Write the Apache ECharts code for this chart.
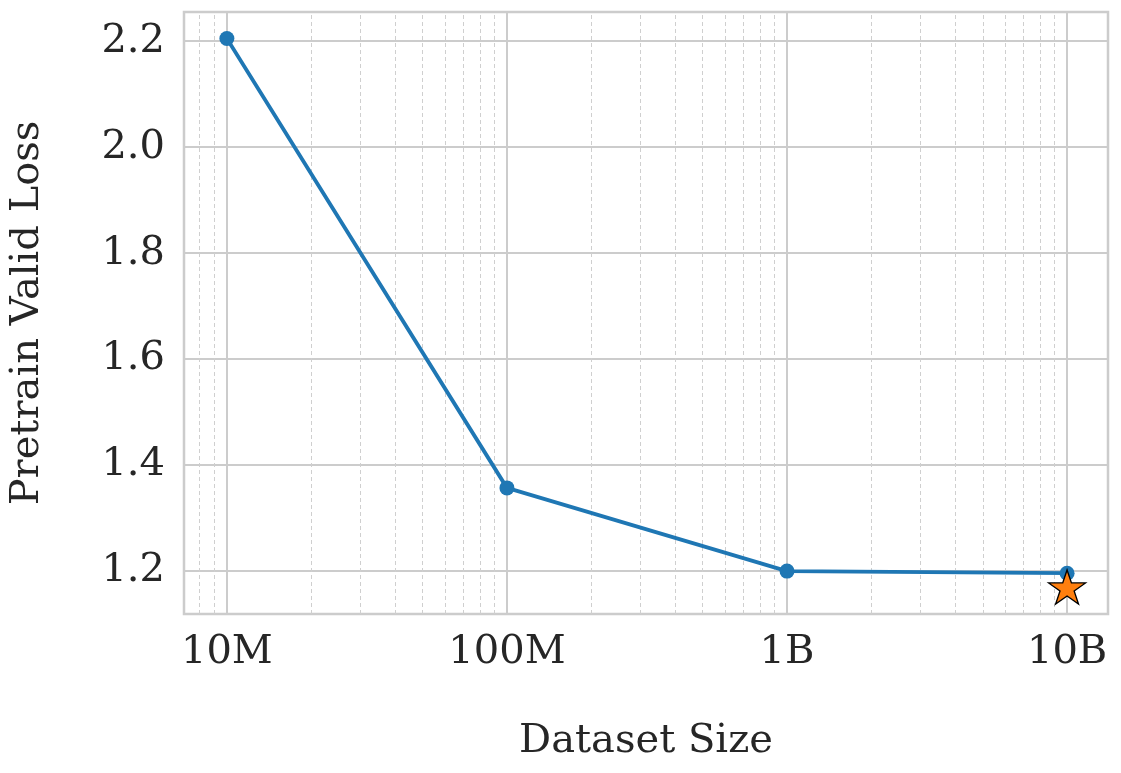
<!DOCTYPE html>
<html>
<head>
    <meta charset="utf-8">
    <title>Pretrain Valid Loss vs Dataset Size</title>
    <script type="text/javascript" src="https://cdn.jsdelivr.net/npm/echarts@6/dist/echarts.min.js"></script>
</head>
<body style="margin:0;">
<div id="chartmain" style="width:1121px; height:773px;"></div>
<script type="text/javascript">
// data
var datasetSizes = [1e7, 1e8, 1e9, 1e10];
var validLoss = [2.205, 1.357, 1.200, 1.196];
var starPoint = [1e10, 1.17];
var yTicks = [1.2, 1.4, 1.6, 1.8, 2.0, 2.2];
var xTickNames = {'10000000': '10M', '100000000': '100M', '1000000000': '1B', '10000000000': '10B'};
// minor grid positions (2..9 per decade)
var minorMult = [2, 3, 4, 5, 6, 7, 8, 9];
var decades = [1e6, 1e7, 1e8, 1e9, 1e10];

var xMin = 7.03e6, xMax = 1.4e10;
var minorLines = [];
decades.forEach(function (d) {
    minorMult.forEach(function (m) {
        var v = d * m;
        if (v > xMin && v < xMax) minorLines.push({xAxis: v});
    });
});

var font = 'DejaVu Serif';
var starPath = 'path://M50,0L61.23,34.55L97.55,34.55L68.17,55.9L79.39,90.45L50,69.1L20.61,90.45L31.83,55.9L2.45,34.55L38.77,34.55Z';

var option = {
    animation: false,
    backgroundColor: '#ffffff',
    grid: {
        left: 183, right: 13, top: 12, bottom: 159,
        show: true, borderColor: '#cccccc', borderWidth: 2.5,
        containLabel: false
    },
    xAxis: {
        type: 'log',
        logBase: 10,
        min: xMin,
        max: xMax,
        name: 'Dataset Size',
        nameLocation: 'middle',
        nameGap: 108,
        nameTextStyle: {fontFamily: font, fontSize: 40, color: '#262626'},
        axisLine: {show: false},
        axisTick: {show: false},
        axisLabel: {
            fontFamily: font, fontSize: 40, color: '#262626', margin: 19,
            showMinLabel: false, showMaxLabel: false,
            formatter: function (v) {
                var k = String(Math.round(v));
                return xTickNames[k] || '';
            }
        },
        splitLine: {show: true, lineStyle: {color: '#cccccc', width: 2}}
    },
    yAxis: {
        type: 'value',
        min: 1.119,
        max: 2.255,
        name: 'Pretrain Valid Loss',
        nameLocation: 'middle',
        nameGap: 136,
        nameTextStyle: {fontFamily: font, fontSize: 40, color: '#262626'},
        axisLine: {show: false},
        axisTick: {show: false, customValues: yTicks},
        axisLabel: {
            fontFamily: font, fontSize: 40, color: '#262626', margin: 19,
            customValues: yTicks,
            formatter: function (v) { return v.toFixed(1); }
        },
        splitLine: {show: true, lineStyle: {color: '#cccccc', width: 2}}
    },
    series: [
        {
            name: 'loss',
            type: 'line',
            data: datasetSizes.map(function (x, i) { return [x, validLoss[i]]; }),
            symbol: 'circle',
            symbolSize: 15,
            itemStyle: {color: '#1f77b4', opacity: 1},
            lineStyle: {color: '#1f77b4', width: 3.8},
            z: 3,
            markLine: {
                silent: true,
                symbol: ['none', 'none'],
                label: {show: false},
                lineStyle: {color: '#cfcfcf', width: 1, type: [4, 3]},
                data: minorLines,
                z: 1
            }
        },
        {
            name: 'star',
            type: 'scatter',
            data: [starPoint],
            symbol: starPath,
            symbolSize: [37, 34],
            itemStyle: {color: '#ff7f0e', borderColor: '#000000', borderWidth: 1.3, opacity: 1},
            z: 5
        }
    ]
};
var myChart = echarts.init(document.getElementById('chartmain'));
myChart.setOption(option);
</script>
</body>
</html>
